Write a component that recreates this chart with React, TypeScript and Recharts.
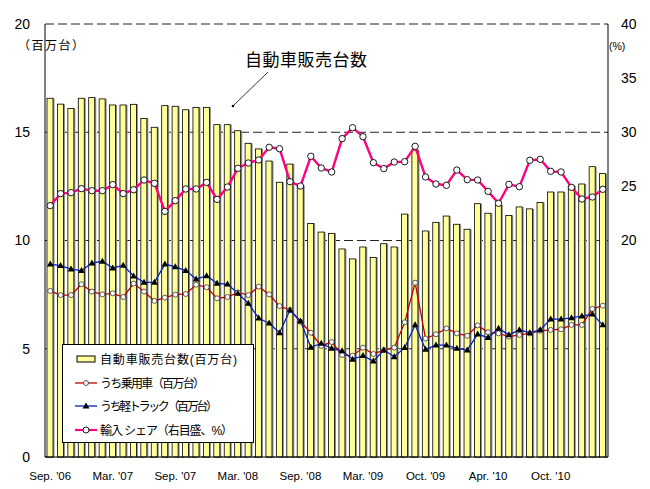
import React from "react";
import { ComposedChart, Bar, Line, XAxis, YAxis, CartesianGrid, Legend, Customized } from "recharts";

document.body.style.margin = "0";

const FONT = "'Liberation Sans', Arial, 'Noto Sans CJK JP', sans-serif";

const months = [
  "2006-09", "2006-10", "2006-11", "2006-12",
  "2007-01", "2007-02", "2007-03", "2007-04", "2007-05", "2007-06", "2007-07", "2007-08", "2007-09", "2007-10", "2007-11", "2007-12",
  "2008-01", "2008-02", "2008-03", "2008-04", "2008-05", "2008-06", "2008-07", "2008-08", "2008-09", "2008-10", "2008-11", "2008-12",
  "2009-01", "2009-02", "2009-03", "2009-04", "2009-05", "2009-06", "2009-07", "2009-08", "2009-09", "2009-10", "2009-11", "2009-12",
  "2010-01", "2010-02", "2010-03", "2010-04", "2010-05", "2010-06", "2010-07", "2010-08", "2010-09", "2010-10", "2010-11", "2010-12",
  "2011-01", "2011-02",
];

// 自動車販売台数（百万台）
const sales = [
  16.57, 16.3, 16.1, 16.57, 16.6, 16.54, 16.26, 16.26, 16.29, 15.64, 15.23, 16.23, 16.2, 16.04, 16.15, 16.15, 15.35, 15.35,
  15.07, 14.49, 14.23, 13.67, 12.69, 13.53, 12.55, 10.79, 10.39, 10.33, 9.61, 9.15, 9.7, 9.22, 9.85, 9.7, 11.22, 14.18,
  10.44, 10.84, 11.13, 10.75, 10.52, 11.7, 11.26, 11.64, 11.16, 11.55, 11.46, 11.76, 12.24, 12.24, 12.52, 12.61, 13.41, 13.09,
];

// うち乗用車
const cars = [
  7.67, 7.48, 7.48, 7.98, 7.64, 7.51, 7.56, 7.39, 8.01, 7.64, 7.21, 7.36, 7.5, 7.53, 7.96, 7.84, 7.33, 7.39,
  7.6, 7.48, 7.87, 7.51, 6.97, 6.79, 6.25, 5.74, 5.13, 5.31, 4.71, 4.68, 5.05, 4.76, 4.94, 5.05, 6.22, 8.05,
  5.47, 5.67, 5.94, 5.71, 5.6, 6.08, 5.76, 5.71, 5.56, 5.64, 5.71, 5.83, 5.87, 5.9, 6.1, 6.1, 6.84, 6.99,
];

// うち軽トラック
const trucks = [
  8.91, 8.84, 8.68, 8.61, 8.96, 9.04, 8.73, 8.85, 8.36, 8.07, 8.07, 8.91, 8.78, 8.61, 8.22, 8.37, 8.02, 7.99,
  7.56, 7.1, 6.41, 6.18, 5.74, 6.79, 6.28, 5.07, 5.25, 5.02, 4.9, 4.51, 4.68, 4.43, 4.94, 4.63, 5.05, 6.1,
  4.97, 5.17, 5.17, 5.02, 4.94, 5.68, 5.51, 5.94, 5.64, 5.87, 5.74, 5.87, 6.37, 6.37, 6.43, 6.51, 6.6, 6.1,
];

// 輸入シェア（%）
const importShare = [
  23.22, 24.33, 24.42, 24.79, 24.6, 24.6, 25.16, 24.33, 24.69, 25.59, 25.28, 22.69, 23.68, 24.76, 24.76, 25.37, 23.8, 24.94,
  26.67, 27.16, 27.44, 28.61, 28.48, 25.43, 25.03, 27.78, 26.7, 26.33, 29.41, 30.42, 29.59, 27.19, 26.64, 27.25, 27.28, 28.7,
  25.87, 25.22, 25.1, 26.51, 25.62, 25.59, 24.54, 23.44, 25.19, 24.97, 27.41, 27.5, 26.39, 26.33, 24.91, 23.83, 24.02, 24.73,
];

const tickMonths = ["2006-09", "2007-03", "2007-09", "2008-03", "2008-09", "2009-03", "2009-09", "2010-03", "2010-09"];
const tickLabels = ["Sep. '06", "Mar. '07", "Sep. '07", "Mar. '08", "Sep. '08", "Mar. '09", "Oct. '09", "Apr. '10", "Oct. '10"];

const leftTicks = [0, 5, 10, 15, 20];
const rightTicks = [20, 25, 30, 35, 40];

const data = months.map((m, i) => ({
  month: m,
  sales: sales[i],
  cars: cars[i],
  trucks: trucks[i],
  share: importShare[i],
}));

const RED = "#C00000";
const BLUE = "#0020C0";
const PINK = "#FF0080";

const BarShape = (p: any) => {
  const { x, y, width, height } = p;
  if (height == null || height <= 0) return null;
  return (
    <g>
      <rect x={x + 1.5} y={y} width={width} height={height} fill="#8a8a8a" />
      <rect x={x} y={y} width={width} height={height} fill="#FFFF99" stroke="#000" strokeWidth={0.8} />
    </g>
  );
};

const TriangleDot = (p: any) => {
  const { cx, cy } = p;
  if (cx == null || cy == null) return null;
  return <path d={`M${cx},${cy - 3.6} L${cx + 3.4},${cy + 2.4} L${cx - 3.4},${cy + 2.4} Z`} fill="#000" />;
};

const LegendBox = () => (
  <svg width={192} height={99} style={{ display: "block" }}>
    <rect x={0.5} y={0.5} width={191} height={98} fill="#fff" stroke="#000" />
    <g fontFamily={FONT} fontSize={12} fill="#000">
      <rect x={15} y={12} width={18} height={6} fill="#FFFF99" stroke="#000" strokeWidth={1} />
      <text x={38} y={20} textLength={137} lengthAdjust="spacing">自動車販売台数(百万台)</text>

      <line x1={13} x2={35} y1={39} y2={39} stroke={RED} strokeWidth={1.3} />
      <circle cx={24} cy={39} r={2.5} fill="#fff" stroke="#333" strokeWidth={0.8} />
      <text x={38} y={44} textLength={105} lengthAdjust="spacing">うち乗用車（百万台）</text>

      <line x1={13} x2={35} y1={62} y2={62} stroke={BLUE} strokeWidth={1.3} />
      <path d="M24,58.4 L27.4,64.4 L20.6,64.4 Z" fill="#000" />
      <text x={38} y={67} textLength={118} lengthAdjust="spacing">うち軽トラック（百万台）</text>

      <line x1={13} x2={35} y1={86} y2={86} stroke={PINK} strokeWidth={2.2} />
      <circle cx={24} cy={86} r={3} fill="#fff" stroke="#000" strokeWidth={0.9} />
      <text x={38} y={91} textLength={133} lengthAdjust="spacing">輸入 シェア（右目盛、%）</text>
    </g>
  </svg>
);

const Annotations = () => (
  <g fontFamily={FONT} fill="#000">
    <text x={18} y={50} fontSize={12} textLength={66} lengthAdjust="spacing">（百万台）</text>
    <text x={609} y={50} fontSize={10.5}>(%)</text>
    <text x={245} y={66} fontSize={17} textLength={122} lengthAdjust="spacing">自動車販売台数</text>
    <line x1={268} y1={72} x2={233} y2={106} stroke="#000" strokeWidth={0.8} />
    <circle cx={233} cy={106} r={1.3} fill="#000" />
  </g>
);

export default function App() {
  return (
    <div style={{ position: "relative", width: 650, height: 489, background: "#fff" }}>
      <ComposedChart width={650} height={489} data={data} margin={{ top: 24, right: 0, bottom: 0, left: 0 }}>
        <CartesianGrid yAxisId="left" vertical={false} stroke="#222" strokeDasharray="9 4" />
        <XAxis
          dataKey="month"
          ticks={tickMonths}
          interval={0}
          tickFormatter={(m: string) => tickLabels[tickMonths.indexOf(m)] ?? ""}
          height={32}
          axisLine={{ stroke: "#000" }}
          tickLine={false}
          tickSize={13}
          tickMargin={2}
          tick={{ fontSize: 11.5, fill: "#000", fontFamily: FONT }}
        />
        <YAxis
          yAxisId="left"
          domain={[0, 20]}
          ticks={leftTicks}
          width={45}
          axisLine={{ stroke: "#000" }}
          tickLine={false}
          tickSize={13}
          tickMargin={2}
          tick={{ fontSize: 14, fill: "#000", fontFamily: FONT }}
        />
        <YAxis
          yAxisId="right"
          orientation="right"
          domain={[0, 40]}
          ticks={rightTicks}
          width={42}
          axisLine={{ stroke: "#000" }}
          tickLine={false}
          tickSize={11}
          tickMargin={2}
          tick={{ fontSize: 14, fill: "#000", fontFamily: FONT }}
        />
        <Bar yAxisId="left" dataKey="sales" barSize={6} shape={BarShape} isAnimationActive={false} />
        <Line
          yAxisId="left"
          dataKey="cars"
          type="linear"
          stroke={RED}
          strokeWidth={1.3}
          dot={{ r: 2.5, fill: "#fff", stroke: "#333", strokeWidth: 0.8 }}
          activeDot={false}
          isAnimationActive={false}
        />
        <Line
          yAxisId="left"
          dataKey="trucks"
          type="linear"
          stroke={BLUE}
          strokeWidth={1.3}
          dot={(p: any) => <TriangleDot key={`t${p.index}`} {...p} />}
          activeDot={false}
          isAnimationActive={false}
        />
        <Line
          yAxisId="right"
          dataKey="share"
          type="linear"
          stroke={PINK}
          strokeWidth={2.4}
          dot={{ r: 3.2, fill: "#fff", stroke: "#000", strokeWidth: 0.9 }}
          activeDot={false}
          isAnimationActive={false}
        />
        <Legend
          layout="vertical"
          align="center"
          verticalAlign="middle"
          content={() => <LegendBox />}
          wrapperStyle={{ position: "absolute", left: 62, top: 344, width: 192, height: 99 }}
        />
        <Customized component={Annotations} />
      </ComposedChart>
    </div>
  );
}
